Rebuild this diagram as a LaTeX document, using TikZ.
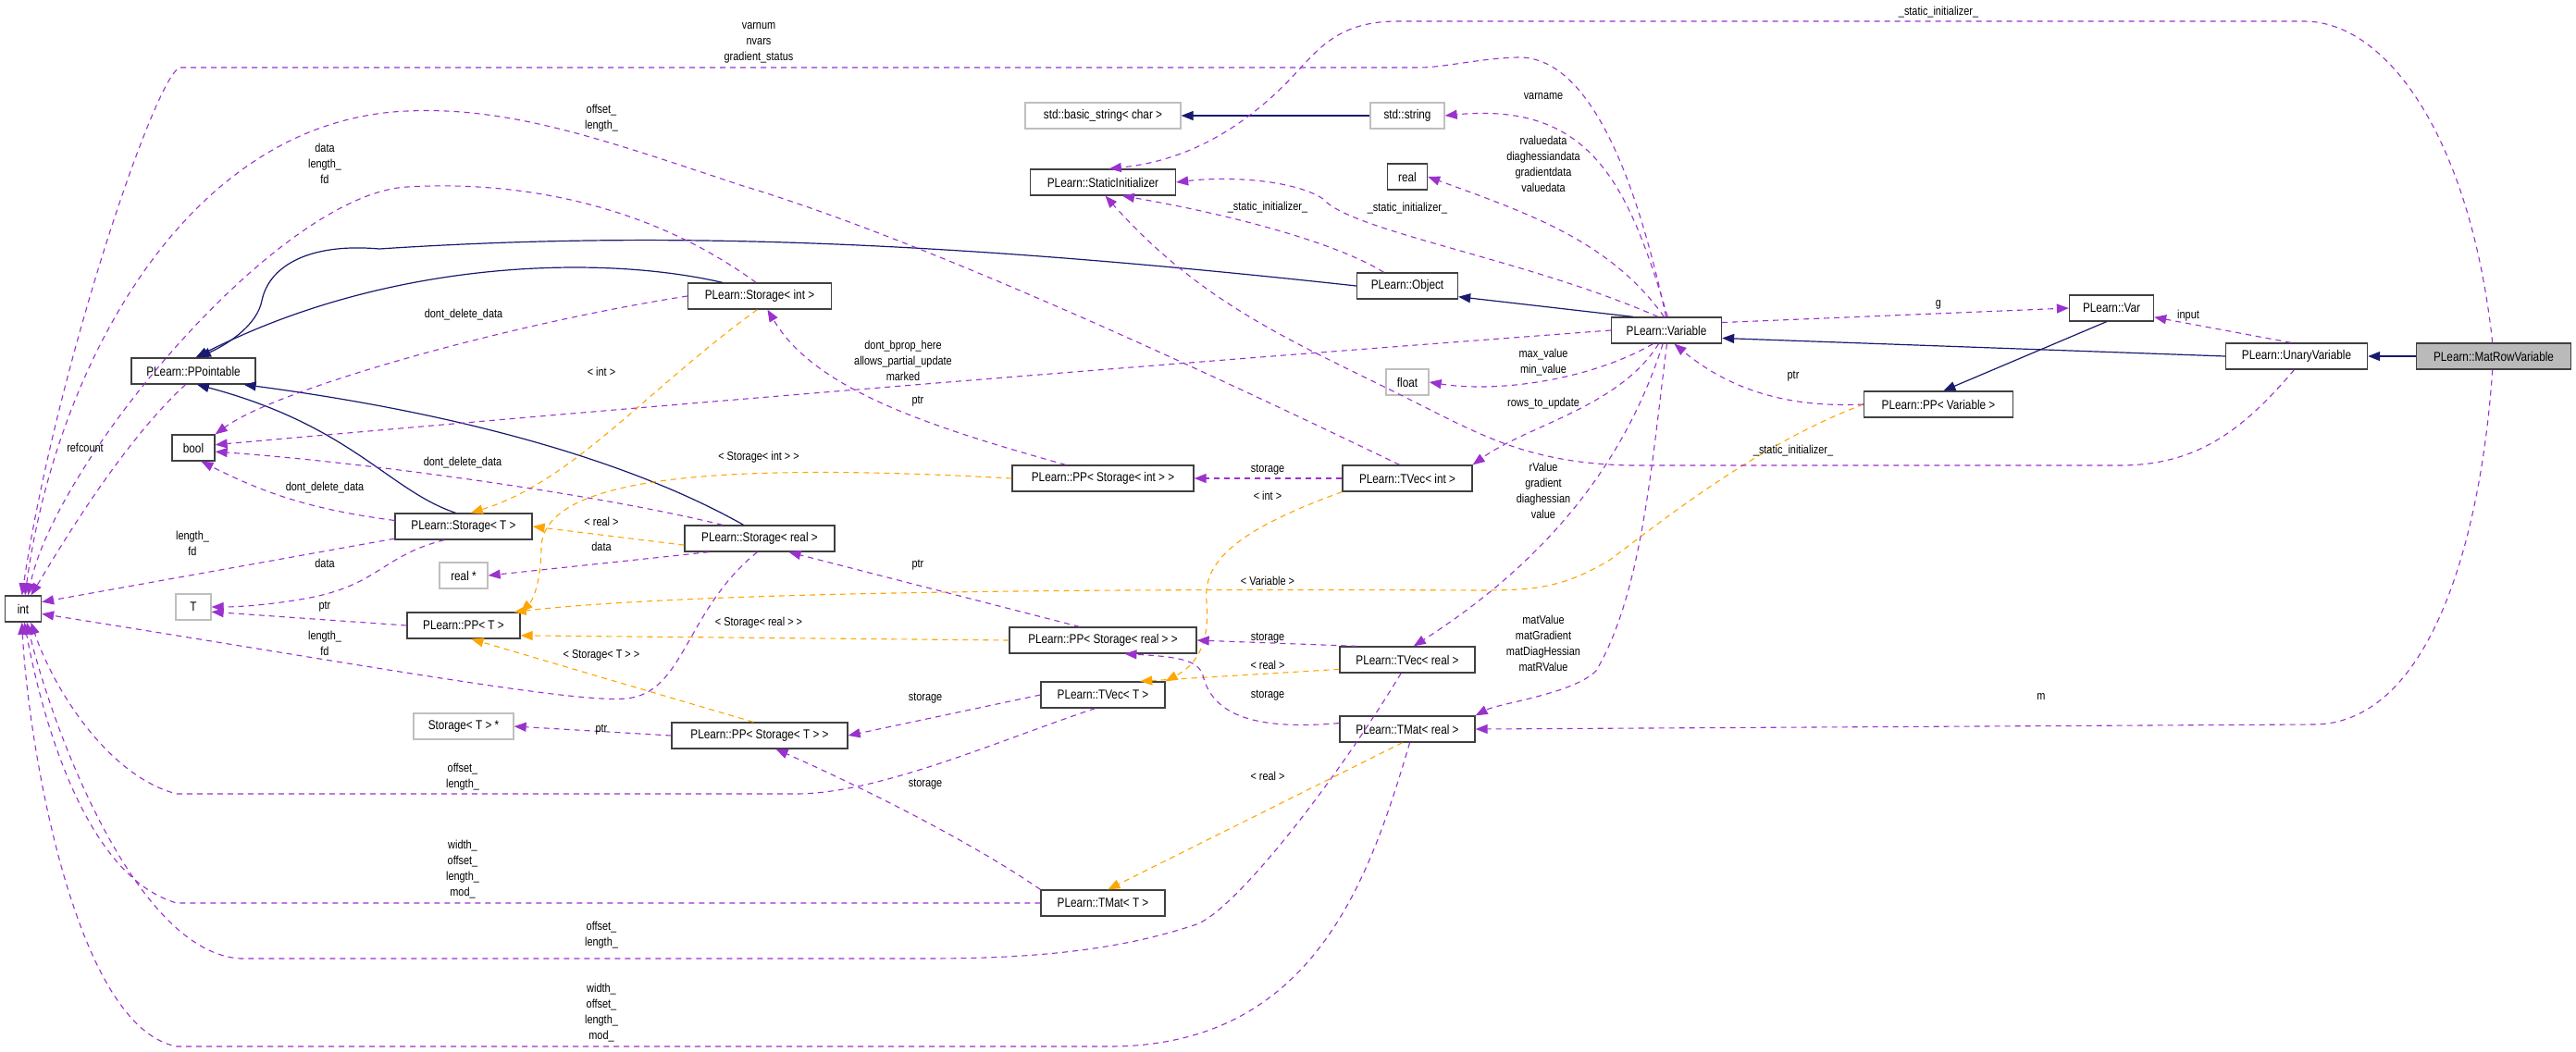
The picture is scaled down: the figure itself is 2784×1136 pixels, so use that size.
\documentclass[tikz,border=0pt]{standalone}
\usepackage{fontspec}
\setmainfont{Liberation Sans}[FakeStretch=0.84]
\usetikzlibrary{arrows.meta}
\definecolor{ipurple}{HTML}{9A32CD}
\definecolor{iorange}{HTML}{FFA500}
\definecolor{inavy}{HTML}{191970}
\begin{document}
\begin{tikzpicture}[x=1pt,y=-1pt,
  box/.style={draw=black!75,line width=1.3pt,minimum height=28pt,inner xsep=2pt,inner ysep=0pt,font=\fontsize{14}{17}\selectfont,fill=white},
  gbox/.style={box,draw=black!25},
  lbl/.style={font=\fontsize{13}{17}\selectfont,align=center,inner sep=0pt},
  inh/.style={draw=inavy,line width=1.2pt,-{Triangle[length=13pt,width=10pt]}},
  mem/.style={draw=ipurple,line width=1.1pt,dash pattern=on 6pt off 5pt,-{Triangle[length=13pt,width=10pt]}},
  tpl/.style={draw=iorange,line width=1.1pt,dash pattern=on 6pt off 5pt,-{Triangle[length=13pt,width=10pt]}}]
\useasboundingbox[fill=white] (0,0) rectangle (2784,1136);
% nodes
\node[box,minimum width=134pt] (ppt) at (209,401) {PLearn::PPointable};
\node[box,minimum width=46pt] (bool) at (209,484) {bool};
\node[box,minimum width=39pt] (int) at (25,658) {int};
\node[gbox,minimum width=38pt] (tt) at (209,656) {T};
\node[box,minimum width=148pt] (sT) at (501,569) {PLearn::Storage< T >};
\node[gbox,minimum width=52pt] (rp) at (501,622) {real *};
\node[box,minimum width=122pt] (pT) at (501,676) {PLearn::PP< T >};
\node[gbox,minimum width=108pt] (spT) at (501,785) {Storage< T > *};
\node[box,minimum width=155pt] (sti) at (821,320) {PLearn::Storage< int >};
\node[box,minimum width=162pt] (sr) at (821,582) {PLearn::Storage< real >};
\node[box,minimum width=190pt] (ppsT) at (821,795) {PLearn::PP< Storage< T > >};
\node[gbox,minimum width=168pt] (bstr) at (1192,125) {std::basic\_string< char >};
\node[gbox,minimum width=80pt] (str) at (1521,125) {std::string};
\node[box,minimum width=157pt] (si) at (1192,197) {PLearn::StaticInitializer};
\node[box,minimum width=43pt] (real) at (1521,191) {real};
\node[box,minimum width=109pt] (obj) at (1521,309) {PLearn::Object};
\node[box,minimum width=119pt] (var) at (1801,357) {PLearn::Variable};
\node[gbox,minimum width=46pt] (fl) at (1521,413) {float};
\node[box,minimum width=196pt] (ppsi) at (1192,517) {PLearn::PP< Storage< int > >};
\node[box,minimum width=140pt] (tvi) at (1521,517) {PLearn::TVec< int >};
\node[box,minimum width=202pt] (ppsr) at (1192,692) {PLearn::PP< Storage< real > >};
\node[box,minimum width=134pt] (tvT) at (1192,751) {PLearn::TVec< T >};
\node[box,minimum width=146pt] (tvr) at (1521,713) {PLearn::TVec< real >};
\node[box,minimum width=146pt] (tmr) at (1521,788) {PLearn::TMat< real >};
\node[box,minimum width=134pt] (tmT) at (1192,976) {PLearn::TMat< T >};
\node[box,minimum width=91pt] (vr) at (2282,333) {PLearn::Var};
\node[box,minimum width=153pt] (uv) at (2482,385) {PLearn::UnaryVariable};
\node[box,minimum width=167pt,fill=black!27] (mrv) at (2695,385) {PLearn::MatRowVariable};
\node[box,minimum width=161pt] (ppv) at (2095,437) {PLearn::PP< Variable >};
% inheritance
\draw[inh] (mrv.west) -- (uv.east);
\draw[inh] (uv.west) -- (var.-8);
\draw[inh] (var.158) -- (obj.-12);
\draw[inh] (obj.west) .. controls (1000,258) and (700,250) .. (410,269) .. controls (330,262) and (290,290) .. (283,325) .. controls (278,350) and (250,370) .. (ppt.68);
\draw[inh] (sti.160) .. controls (650,275) and (420,280) .. (ppt.80);
\draw[inh] (sT.120) .. controls (420,530) and (380,460) .. (ppt.-75);
\draw[inh] (sr.140) .. controls (720,520) and (560,455) .. (ppt.-15);
\draw[inh] (str.west) -- (bstr.east);
\draw[inh] (vr.250) -- (ppv.70);
% templates
\draw[tpl] (sti.260) .. controls (700,420) and (620,520) .. (sT.62);
\draw[tpl] (sr.185) -- (sT.east);
\draw[tpl] (ppsi.west) .. controls (750,498) and (590,520) .. (585,590) .. controls (585,630) and (575,650) .. (pT.north east);
\draw[tpl] (ppsr.west) -- (pT.-10);
\draw[tpl] (ppv.west) .. controls (1900,480) and (1800,560) .. (1740,605) .. controls (1690,635) and (1660,638) .. (1600,638) .. controls (1000,635) and (700,645) .. (pT.15);
\draw[tpl] (ppsT.115) -- (pT.-60);
\draw[tpl] (tvi.south west) .. controls (1330,575) and (1300,610) .. (1304,650) .. controls (1308,700) and (1290,720) .. (tvT.north east);
\draw[tpl] (tvr.188) -- (tvT.20);
\draw[tpl] (tmr.-110) -- (tmT.70);
\node[lbl] at (650,402) {< int >};
\node[lbl] at (650,564) {< real >};
\node[lbl] at (820,494) {< Storage< int > >};
\node[lbl] at (820,673) {< Storage< real > >};
\node[lbl] at (1370,628) {< Variable >};
\node[lbl] at (650,708) {< Storage< T > >};
\node[lbl] at (1370,536) {< int >};
\node[lbl] at (1370,719) {< real >};
\node[lbl] at (1370,839) {< real >};
% members
\draw[mem] (var.85) .. controls (1760,200) and (1720,110) .. (str.east);
\node[lbl] at (1668,104) {varname};
\draw[mem] (var.100) .. controls (1740,260) and (1650,230) .. (real.east);
\node[lbl] at (1668,177) {rvaluedata\\diaghessiandata\\gradientdata\\valuedata};
\draw[mem] (var.122) .. controls (1650,280) and (1460,250) .. (1430,215) .. controls (1400,195) and (1330,190) .. (si.east);
\node[lbl] at (1521,225) {\_static\_initializer\_};
\draw[mem] (var.-135) .. controls (1720,410) and (1620,425) .. (fl.east);
\node[lbl] at (1668,392) {max\_value\\min\_value};
\draw[mem] (var.-120) .. controls (1750,440) and (1650,460) .. (tvi.north east);
\node[lbl] at (1668,436) {rows\_to\_update};
\draw[mem] (var.-105) .. controls (1750,520) and (1650,620) .. (tvr.65);
\node[lbl] at (1668,530) {rValue\\gradient\\diaghessian\\value};
\draw[mem] (var.-88) .. controls (1785,500) and (1775,640) .. (1725,725) .. controls (1700,750) and (1620,760) .. (tmr.north east);
\node[lbl] at (1668,695) {matValue\\matGradient\\matDiagHessian\\matRValue};
\draw[mem] (var.west) .. controls (1300,390) and (800,430) .. (bool.8);
\node[lbl] at (976,390) {dont\_bprop\_here\\allows\_partial\_update\\marked};
\draw[mem] (var.8) -- (vr.west);
\node[lbl] at (2095,329) {g};
\draw[mem] (var.92) .. controls (1770,200) and (1720,60) .. (1640,62) .. controls (1600,63) and (1560,73) .. (1534,73) -- (195,73) .. controls (170,75) and (60,400) .. (int.95);
\node[lbl] at (820,46) {varnum\\nvars\\gradient\_status};
\draw[mem] (uv.112) -- (vr.-12);
\node[lbl] at (2365,341) {input};
\draw[mem] (uv.-100) .. controls (2420,470) and (2370,503) .. (2290,503) -- (1760,503) .. controls (1650,500) and (1600,470) .. (1520,430) .. controls (1400,370) and (1300,330) .. (si.-80);
\node[lbl] at (1938,487) {\_static\_initializer\_};
\draw[mem] (mrv.95) .. controls (2670,150) and (2580,23) .. (2490,23) -- (1510,23) .. controls (1440,23) and (1420,60) .. (1390,90) .. controls (1330,150) and (1270,175) .. (si.65);
\node[lbl] at (2095,13) {\_static\_initializer\_};
\draw[mem] (mrv.-95) .. controls (2680,600) and (2620,783) .. (2500,783) -- (tmr.east);
\node[lbl] at (2206,753) {m};
\draw[mem] (obj.150) .. controls (1440,260) and (1320,230) .. (si.-35);
\node[lbl] at (1370,224) {\_static\_initializer\_};
\draw[mem] (sti.west) .. controls (550,350) and (300,420) .. (bool.north east);
\node[lbl] at (501,340) {dont\_delete\_data};
\draw[mem] (sti.105) .. controls (700,220) and (560,195) .. (440,202) .. controls (300,210) and (60,500) .. (int.70);
\node[lbl] at (351,177) {data\\length\_\\fd};
\draw[mem] (tvi.120) .. controls (1300,400) and (1000,260) .. (800,200) .. controls (650,150) and (550,115) .. (440,120) .. controls (200,130) and (60,400) .. (int.82);
\node[lbl] at (650,128) {offset\_\\length\_};
\draw[mem] (ppsi.160) .. controls (1000,460) and (880,420) .. (sti.-60);
\node[lbl] at (992,434) {ptr};
\draw[mem] (tvi.west) -- (ppsi.east);
\node[lbl] at (1370,508) {storage};
\draw[mem] (sT.175) .. controls (330,550) and (280,530) .. (bool.-60);
\node[lbl] at (351,527) {dont\_delete\_data};
\draw[mem] (sT.190) -- (int.20);
\node[lbl] at (208,587) {length\_\\fd};
\draw[mem] (sT.-145) .. controls (415,600) and (410,630) .. (340,645) .. controls (300,653) and (260,656) .. (tt.east);
\node[lbl] at (351,609) {data};
\draw[mem] (sr.160) .. controls (650,535) and (400,500) .. (bool.-10);
\node[lbl] at (500,500) {dont\_delete\_data};
\draw[mem] (sr.195) -- (rp.east);
\node[lbl] at (650,591) {data};
\draw[mem] (sr.-100) .. controls (740,660) and (740,750) .. (676,755) .. controls (620,760) and (400,720) .. (int.-15);
\node[lbl] at (351,695) {length\_\\fd};
\draw[mem] (pT.west) -- (tt.-15);
\node[lbl] at (351,656) {ptr};
\draw[mem] (ppsr.150) -- (sr.-25);
\node[lbl] at (992,611) {ptr};
\draw[mem] (tvr.165) -- (ppsr.east);
\node[lbl] at (1370,690) {storage};
\draw[mem] (tvr.-115) .. controls (1440,850) and (1330,990) .. (1290,1000) .. controls (1200,1030) and (1100,1036) .. (1000,1036) -- (260,1036) .. controls (150,1030) and (60,800) .. (int.-75);
\node[lbl] at (650,1011) {offset\_\\length\_};
\draw[mem] (tmr.175) .. controls (1350,790) and (1310,770) .. (1300,730) .. controls (1295,715) and (1280,710) .. (ppsr.-32);
\node[lbl] at (1370,752) {storage};
\draw[mem] (tmr.-80) .. controls (1480,950) and (1420,1130) .. (1200,1131) -- (191,1131) .. controls (80,1110) and (30,800) .. (int.-95);
\node[lbl] at (650,1095) {width\_\\offset\_\\length\_\\mod\_};
\draw[mem] (tvT.west) -- (ppsT.east);
\node[lbl] at (1000,755) {storage};
\draw[mem] (tvT.-120) .. controls (1080,800) and (950,858) .. (860,858) -- (191,858) .. controls (120,840) and (60,750) .. (int.-60);
\node[lbl] at (500,840) {offset\_\\length\_};
\draw[mem] (ppsT.west) -- (spT.east);
\node[lbl] at (650,789) {ptr};
\draw[mem] (tmT.north west) .. controls (1050,910) and (930,850) .. (ppsT.-40);
\node[lbl] at (1000,848) {storage};
\draw[mem] (tmT.west) -- (191,976) .. controls (100,950) and (50,800) .. (int.-85);
\node[lbl] at (500,940) {width\_\\offset\_\\length\_\\mod\_};
\draw[mem] (ppt.-120) .. controls (130,480) and (60,600) .. (int.60);
\node[lbl] at (92,484) {refcount};
\draw[mem] (ppv.west) .. controls (1950,440) and (1880,430) .. (var.-60);
\node[lbl] at (1938,407) {ptr};
\end{tikzpicture}
\end{document}
